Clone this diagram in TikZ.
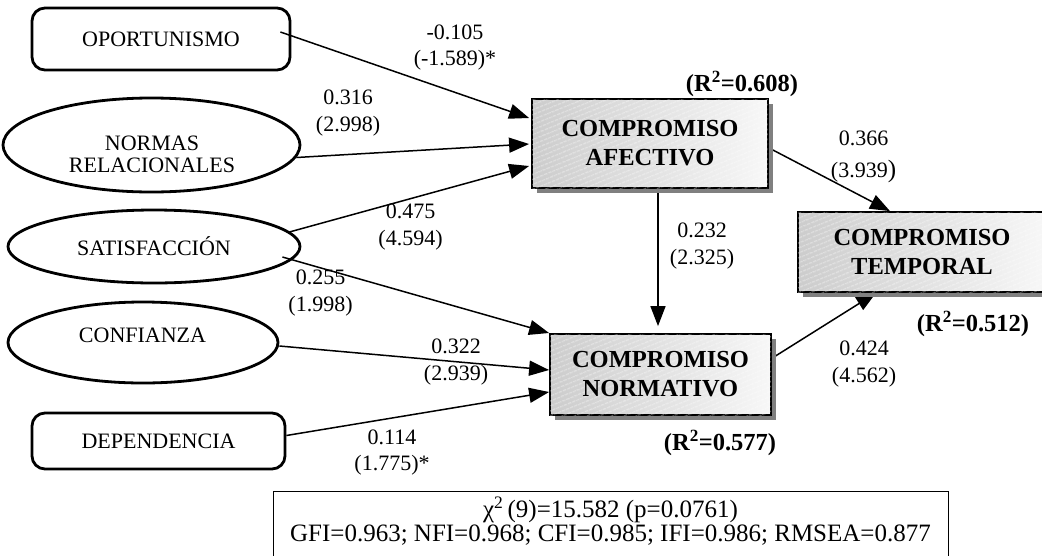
\documentclass[tikz,border=0pt]{standalone}
\usepackage{fontspec}
\setmainfont{Liberation Serif}
\usetikzlibrary{shapes.geometric,arrows.meta,shadows,patterns.meta,calc}
\pgfdeclarelayer{bg}
\pgfsetlayers{bg,main}
\begin{document}
\begin{tikzpicture}[x=1pt,y=-1pt,
  lat/.style={ellipse, draw, line width=2.8pt, inner sep=0pt, font=\fontsize{22}{22}\selectfont, align=center},
  ltxt/.style={inner sep=0pt, font=\fontsize{22}{22}\selectfont, align=center},
  obs/.style={rectangle, rounded corners=13pt, draw, line width=2.8pt, inner sep=0pt, font=\fontsize{22}{22}\selectfont},
  cbox/.style={rectangle, draw, line width=1.8pt, inner sep=0pt, align=center,
    font=\fontsize{24.5}{29}\selectfont\bfseries, left color=gray!40, right color=gray!6,
    drop shadow={shadow xshift=5pt, shadow yshift=-5pt, fill=black!50, opacity=1},
    postaction={pattern={Lines[angle=22,distance=4pt,line width=0.5pt]}, pattern color=white}},
  lbl/.style={font=\fontsize{22}{26.5}\selectfont, align=center, inner sep=0pt},
  rsq/.style={font=\fontsize{24.5}{29}\selectfont\bfseries, inner sep=0pt},
  arr/.style={line width=1.5pt, -{Triangle[length=20pt,width=15pt]}}
]
\path[use as bounding box] (0,0) rectangle (1042,555);
\clip (0,0) rectangle (1042,555);

% exogenous
\node[obs, minimum width=258pt, minimum height=62pt] (oport) at (161,39) {OPORTUNISMO};
\node[lat, minimum width=297pt, minimum height=94pt] (normas) at (151.5,145) {};
\node[ltxt] (normast) at (152,154) {NORMAS\\RELACIONALES};
\node[lat, minimum width=292pt, minimum height=73pt] (satisf) at (154,246.5) {SATISFACCIÓN};
\node[lat, minimum width=270pt, minimum height=81pt] (conf) at (143,342.5) {};
\node[ltxt] (conft) at (142.5,335) {CONFIANZA};
\node[obs, minimum width=253pt, minimum height=56pt] (depend) at (158.5,441) {DEPENDENCIA};

% endogenous
\node[cbox, minimum width=236pt, minimum height=89pt] (afect) at (650,143.5) {COMPROMISO\\AFECTIVO};
\node[cbox, minimum width=248pt, minimum height=80pt] (temp) at (922,252) {COMPROMISO\\TEMPORAL};
\node[cbox, minimum width=221pt, minimum height=81pt] (normat) at (660.5,374.5) {COMPROMISO\\NORMATIVO};

\node[rsq] (r1) at (742,84) {(R\textsuperscript{2}=0.608)};
\node[rsq] (r2) at (973,324) {(R\textsuperscript{2}=0.512)};
\node[rsq] (r3) at (720,443) {(R\textsuperscript{2}=0.577)};

% arrows
\begin{pgfonlayer}{bg}
\draw[arr] ($(oport.east)+(-11,-7)$) -- ($(afect.west)+(-2,-25.5)$);
\draw[arr] ($(normas.east)+(-5,12.5)$) -- ($(afect.west)+(-2,0.5)$);
\draw[arr] ($(satisf.east)+(-12,-14.5)$) -- ($(afect.west)+(-2,22.5)$);
\draw[arr] ($(satisf.east)+(-19,10.5)$) -- ($(normat.west)+(0,-41.5)$);
\draw[arr] ($(conf.east)+(0,3.5)$) -- ($(normat.west)+(0,-4.5)$);
\draw[arr] ($(depend.east)+(0,-5.5)$) -- ($(normat.west)+(0,17.5)$);
\draw[arr] ($(afect.south)+(8,0)$) -- ($(normat.north)+(-2.5,-7)$);
\draw[arr] ($(afect.east)+(4,6.5)$) -- ($(temp.north)+(-32,0)$);
\draw[arr] ($(normat.east)+(2,-17.5)$) -- ($(temp.south)+(-46,0)$);
\end{pgfonlayer}

% path labels
\node[lbl] (l1) at (455,47.5) {-0.105\\(-1.589)*};
\node[lbl] (l2) at (348,113) {0.316\\(2.998)};
\node[lbl] (l3) at (410.5,227) {0.475\\(4.594)};
\node[lbl] (l4) at (320.5,293) {0.255\\(1.998)};
\node[lbl] (l5) at (456,362) {0.322\\(2.939)};
\node[lbl] (l6) at (392,452.5) {0.114\\(1.775)*};
\node[lbl] (l7) at (702,246) {0.232\\(2.325)};
\node[lbl] (l8) at (863.5,157) {0.366\\[5pt](3.939{\fontsize{25}{25}\selectfont)}};
\node[lbl] (l9) at (864,364) {0.424\\(4.562)};

% fit statistics
\node[draw, line width=1.2pt, minimum width=675pt, minimum height=70pt, inner sep=0pt, anchor=north west] (stats) at (273,491) {};
\node[font=\fontsize{25}{24}\selectfont, align=center, inner sep=0pt] (statst) at (610.5,521)
  {χ\textsuperscript{2}\,(9)=15.582 (p=0.0761)\\GFI=0.963; NFI=0.968; CFI=0.985; IFI=0.986; RMSEA=0.877};
\end{tikzpicture}
\end{document}
